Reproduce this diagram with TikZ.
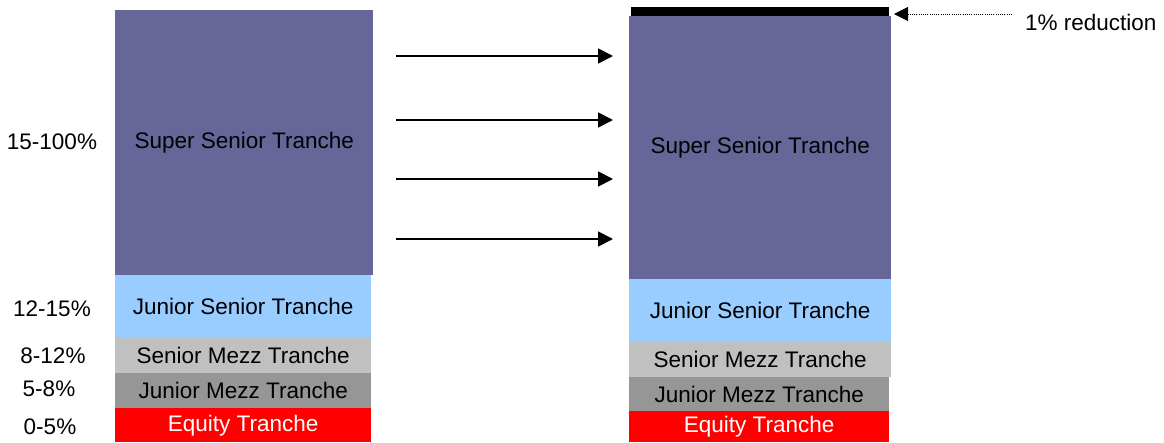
\documentclass[tikz,border=0pt]{standalone}
\usepackage{fontspec}
\setmainfont{Liberation Sans}
\usetikzlibrary{arrows.meta,calc}
\definecolor{superSeniorFill}{HTML}{666699}
\definecolor{juniorSeniorFill}{HTML}{99CCFF}
\definecolor{seniorMezzFill}{HTML}{C0C0C0}
\definecolor{juniorMezzFill}{HTML}{969696}
\definecolor{equityFill}{HTML}{FF0000}
\begin{document}
\begin{tikzpicture}[x=1pt,y=-1pt,
  tranche/.style={draw=none, inner sep=0pt, anchor=north west,
    font=\fontsize{22.5}{27}\selectfont},
  pct/.style={inner sep=0pt, font=\fontsize{22.5}{27}\selectfont},
  shiftarrow/.style={line width=1.8pt, -{Triangle[length=15pt,width=15pt]}},
  notearrow/.style={line width=1pt, dash pattern=on 1pt off 1.2pt,
    -{Triangle[length=14pt,width=14pt,sep=0pt]}}]
\useasboundingbox (0,0) rectangle (1164,442);

% original capital structure
\node[tranche, fill=superSeniorFill, minimum width=258pt, minimum height=265pt] (ssL) at (115,10) {Super Senior Tranche};
\node[tranche, fill=juniorSeniorFill, minimum width=256pt, minimum height=63pt] (jsL) at (115,275) {Junior Senior Tranche};
\node[tranche, fill=seniorMezzFill, minimum width=256pt, minimum height=35pt] (smL) at (115,338) {Senior Mezz Tranche};
\node[tranche, fill=juniorMezzFill, minimum width=256pt, minimum height=35pt] (jmL) at (115,373) {Junior Mezz Tranche};
\node[tranche, fill=equityFill, text=white, minimum width=256pt, minimum height=34pt] (eqL) at (115,408) {Equity Tranche};

% attachment ranges
\node[pct] (p1) at (52,142) {15-100\%};
\node[pct] (p2) at (52,309) {12-15\%};
\node[pct] (p3) at (53,356) {8-12\%};
\node[pct] (p4) at (49,389) {5-8\%};
\node[pct] (p5) at (50,427) {0-5\%};

% structure after the write-down
\node[tranche, fill=black, minimum width=258pt, minimum height=9pt] (cut) at (631,7) {};
\node[tranche, fill=superSeniorFill, minimum width=262pt, minimum height=263pt] (ssR) at (629,16) {Super Senior Tranche};
\node[tranche, fill=juniorSeniorFill, minimum width=262pt, minimum height=62pt] (jsR) at (629,279) {Junior Senior Tranche};
\node[tranche, fill=seniorMezzFill, minimum width=262pt, minimum height=36pt] (smR) at (629,341) {Senior Mezz Tranche};
\node[tranche, fill=juniorMezzFill, minimum width=260pt, minimum height=34pt] (jmR) at (629,377) {Junior Mezz Tranche};
\node[tranche, fill=equityFill, text=white, minimum width=260pt, minimum height=31pt] (eqR) at (629,411) {Equity Tranche};

% transition arrows
\coordinate (a1s) at (396,56);  \coordinate (a1e) at (613,56);
\coordinate (a2s) at (396,120); \coordinate (a2e) at (613,120);
\coordinate (a3s) at (396,179); \coordinate (a3e) at (613,179);
\coordinate (a4s) at (396,239); \coordinate (a4e) at (613,239);
\draw[shiftarrow] (a1s) -- (a1e);
\draw[shiftarrow] (a2s) -- (a2e);
\draw[shiftarrow] (a3s) -- (a3e);
\draw[shiftarrow] (a4s) -- (a4e);

% reduction note
\node[pct, anchor=west] (note) at (1025,22) {1\% reduction};
\coordinate (noteStart) at (1012,14);
\coordinate (noteTip) at (894,14);
\draw[notearrow] (noteStart) -- (noteTip);
\end{tikzpicture}
\end{document}
